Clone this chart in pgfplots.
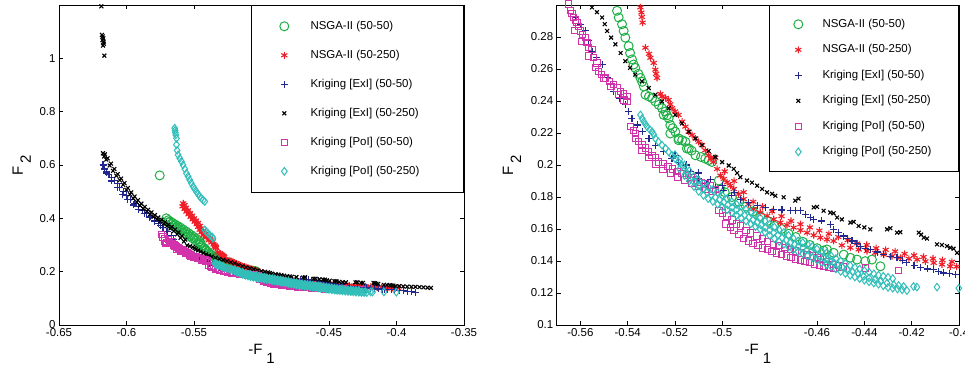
\documentclass[border=0pt]{standalone}
\usepackage{pgfplots}
\pgfplotsset{compat=1.18}
\usepackage{pgfplotstable}
\usepackage{fontspec}
\setmainfont{Liberation Sans}
\definecolor{cgreen}{RGB}{30,175,70}
\definecolor{cred}{RGB}{240,30,40}
\definecolor{cblue}{RGB}{35,40,145}
\definecolor{cmag}{RGB}{210,50,170}
\definecolor{ccyan}{RGB}{50,190,185}

\pgfplotstableread{
x y
-0.5754 0.561
-0.5705 0.400
-0.5690 0.393
-0.5675 0.388
-0.5660 0.383
-0.5640 0.377
-0.5620 0.371
-0.5600 0.365
-0.5580 0.358
-0.5560 0.351
-0.5540 0.344
-0.5520 0.337
-0.5500 0.330
-0.5480 0.322
-0.5460 0.314
-0.5450 0.306
-0.5690 0.385
-0.5670 0.378
-0.5650 0.372
-0.5630 0.366
-0.5610 0.360
-0.5590 0.353
-0.5570 0.346
-0.5550 0.339
-0.5530 0.332
-0.5510 0.325
-0.5490 0.317
-0.5470 0.309
-0.5455 0.302
-0.5445 0.2964
-0.5438 0.2922
-0.5424 0.2880
-0.5417 0.2838
-0.5410 0.2796
-0.5396 0.2743
-0.5390 0.2700
-0.5382 0.2660
-0.5375 0.2628
-0.5368 0.2607
-0.5355 0.2570
-0.5346 0.2544
-0.5339 0.2520
-0.5332 0.2491
-0.5325 0.2439
-0.5310 0.2428
-0.5297 0.2418
-0.5283 0.2397
-0.5269 0.2376
-0.5255 0.2355
-0.5248 0.2313
-0.5241 0.2334
-0.5234 0.2310
-0.5227 0.2292
-0.5220 0.2250
-0.5220 0.2197
-0.5210 0.2230
-0.5199 0.2208
-0.5185 0.2166
-0.5185 0.2155
-0.5170 0.2155
-0.5156 0.2145
-0.5150 0.2103
-0.5142 0.2103
-0.5130 0.2090
-0.5114 0.2061
-0.5090 0.2050
-0.5072 0.2040
-0.5058 0.2030
-0.5044 0.2019
-0.5015 0.1903
-0.5008 0.1850
-0.4990 0.1830
-0.4960 0.1800
-0.4930 0.1770
-0.4900 0.1740
-0.4870 0.1710
-0.4840 0.1680
-0.4810 0.1650
-0.4780 0.1620
-0.4750 0.1600
-0.4720 0.1570
-0.4690 0.1550
-0.4660 0.1520
-0.4630 0.1500
-0.4600 0.1480
-0.4572 0.1465
-0.4558 0.1472
-0.4530 0.1451
-0.4487 0.1440
-0.4459 0.1420
-0.4431 0.1409
-0.4396 0.1399
-0.4368 0.1409
-0.4332 0.1367
}\greendata

\pgfplotstableread{
x y
-0.5580 0.456
-0.5585 0.445
-0.5570 0.435
-0.5556 0.425
-0.5540 0.415
-0.5525 0.405
-0.5510 0.396
-0.5495 0.387
-0.5480 0.378
-0.5470 0.368
-0.5458 0.357
-0.5445 0.347
-0.5430 0.337
-0.5410 0.328
-0.5390 0.318
-0.5370 0.309
-0.5355 0.302
-0.5570 0.450
-0.5560 0.440
-0.5545 0.430
-0.5530 0.420
-0.5515 0.410
-0.5500 0.400
-0.5485 0.392
-0.5470 0.383
-0.5455 0.372
-0.5445 0.362
-0.5432 0.352
-0.5418 0.342
-0.5400 0.333
-0.5380 0.323
-0.5360 0.314
-0.5346 0.2985
-0.5342 0.2953
-0.5340 0.2925
-0.5337 0.2890
-0.5325 0.2733
-0.5310 0.2695
-0.5304 0.2670
-0.5290 0.2638
-0.5283 0.2596
-0.5280 0.2570
-0.5276 0.2544
-0.5262 0.2445
-0.5255 0.2428
-0.5240 0.2420
-0.5227 0.2407
-0.5220 0.2380
-0.5213 0.2355
-0.5200 0.2335
-0.5185 0.2313
-0.5170 0.2271
-0.5156 0.2240
-0.5142 0.2208
-0.5128 0.2187
-0.5114 0.2166
-0.5100 0.2145
-0.5086 0.2124
-0.5072 0.2092
-0.5058 0.2061
-0.5048 0.2040
-0.5037 0.2019
-0.5022 0.1975
-0.5008 0.1934
-0.4994 0.1913
-0.4980 0.1892
-0.4966 0.1871
-0.4952 0.1850
-0.4931 0.1818
-0.4910 0.1787
-0.4890 0.1755
-0.4868 0.1724
-0.4840 0.1703
-0.4811 0.1682
-0.4783 0.1661
-0.4755 0.1640
-0.4727 0.1625
-0.4699 0.1609
-0.4670 0.1593
-0.4642 0.1577
-0.4614 0.1561
-0.4586 0.1546
-0.4558 0.1535
-0.4530 0.1525
-0.4495 0.1498
-0.4459 0.1483
-0.4424 0.1472
-0.4389 0.1462
-0.4354 0.1451
-0.4318 0.1440
-0.4283 0.1430
-0.4248 0.1420
-0.4212 0.1414
-0.4177 0.1409
-0.4142 0.1398
-0.4107 0.1388
-0.4072 0.1378
-0.4037 0.1367
-0.4010 0.1365
-0.5030 0.2045
-0.4990 0.1960
-0.4950 0.1900
-0.4910 0.1830
-0.4870 0.1770
-0.4830 0.1740
-0.4790 0.1710
-0.4750 0.1680
-0.4710 0.1650
-0.4670 0.1630
-0.4630 0.1610
-0.4590 0.1590
-0.4550 0.1570
-0.4510 0.1550
-0.4470 0.1530
-0.4430 0.1510
-0.4390 0.1500
-0.4350 0.1480
-0.4310 0.1470
-0.4270 0.1460
-0.4230 0.1445
-0.4190 0.1435
-0.4150 0.1425
-0.4110 0.1415
-0.4070 0.1405
-0.4030 0.1395
-0.3990 0.1390
}\reddata

\pgfplotstableread{
x y
-0.6174 0.600
-0.6160 0.585
-0.6145 0.575
-0.6130 0.565
-0.6110 0.553
-0.6090 0.541
-0.6070 0.530
-0.6050 0.515
-0.6025 0.500
-0.6000 0.487
-0.5970 0.472
-0.5940 0.457
-0.5910 0.443
-0.5880 0.430
-0.5850 0.418
-0.5820 0.405
-0.5790 0.392
-0.5760 0.379
-0.5730 0.366
-0.5700 0.350
-0.5670 0.335
-0.5650 0.322
-0.5635 0.305
-0.6150 0.570
-0.6110 0.540
-0.6070 0.515
-0.6030 0.490
-0.5990 0.470
-0.5950 0.450
-0.5910 0.432
-0.5870 0.417
-0.5830 0.402
-0.5790 0.388
-0.5750 0.373
-0.5621 0.2922
-0.5600 0.2880
-0.5579 0.2838
-0.5565 0.2780
-0.5551 0.2712
-0.5530 0.2670
-0.5508 0.2628
-0.5485 0.2545
-0.5459 0.2460
-0.5435 0.2418
-0.5410 0.2376
-0.5396 0.2334
-0.5382 0.2292
-0.5360 0.2250
-0.5339 0.2208
-0.5310 0.2166
-0.5283 0.2124
-0.5248 0.2082
-0.5213 0.2039
-0.5185 0.2018
-0.5156 0.1997
-0.5135 0.1960
-0.5100 0.1915
-0.5065 0.1882
-0.5030 0.1860
-0.4994 0.1840
-0.4960 0.1810
-0.4924 0.1787
-0.4890 0.1766
-0.4853 0.1745
-0.4818 0.1735
-0.4783 0.1724
-0.4748 0.1719
-0.4713 0.1714
-0.4692 0.1714
-0.4670 0.1714
-0.4649 0.1690
-0.4628 0.1672
-0.4614 0.1661
-0.4580 0.1650
-0.4544 0.1630
-0.4530 0.1598
-0.4508 0.1580
-0.4487 0.1556
-0.4470 0.1540
-0.4452 0.1525
-0.4435 0.1510
-0.4417 0.1493
-0.4396 0.1480
-0.4375 0.1472
-0.4346 0.1456
-0.4318 0.1440
-0.4290 0.1430
-0.4262 0.1420
-0.4240 0.1404
-0.4220 0.1388
-0.4190 0.1370
-0.4163 0.1357
-0.4135 0.1350
-0.4107 0.1346
-0.4086 0.1335
-0.4065 0.1325
-0.4040 0.1320
-0.4015 0.1315
-0.3980 0.1300
-0.3950 0.1280
-0.3920 0.1270
-0.3890 0.1250
-0.3860 0.1230
-0.5200 0.2060
-0.5150 0.2000
-0.5100 0.1950
-0.5050 0.1910
-0.5000 0.1870
-0.4950 0.1830
}\bluedata

\pgfplotstableread{
x y
-0.6186 1.195
-0.6182 1.088
-0.6176 1.082
-0.6172 1.075
-0.6178 1.068
-0.6170 1.062
-0.6168 1.055
-0.6174 1.048
-0.6164 1.010
-0.6174 0.644
-0.6165 0.632
-0.6150 0.620
-0.6125 0.598
-0.6100 0.578
-0.6075 0.560
-0.6050 0.543
-0.6025 0.526
-0.6000 0.507
-0.5975 0.490
-0.5950 0.475
-0.5925 0.461
-0.5900 0.448
-0.5875 0.436
-0.5850 0.426
-0.5825 0.416
-0.5800 0.406
-0.5775 0.397
-0.5750 0.389
-0.5725 0.380
-0.5700 0.371
-0.5675 0.362
-0.5650 0.352
-0.5625 0.340
-0.5600 0.327
-0.5575 0.313
-0.6160 0.640
-0.6140 0.625
-0.6115 0.605
-0.6090 0.585
-0.6065 0.566
-0.6040 0.549
-0.6015 0.532
-0.5990 0.514
-0.5965 0.497
-0.5940 0.482
-0.5915 0.468
-0.5890 0.455
-0.5865 0.443
-0.5840 0.432
-0.5815 0.422
-0.5790 0.412
-0.5765 0.403
-0.5740 0.395
-0.5715 0.386
-0.5690 0.377
-0.5665 0.368
-0.5640 0.358
-0.5615 0.347
-0.5590 0.334
-0.5565 0.320
-0.5551 0.2985
-0.5530 0.2955
-0.5508 0.2922
-0.5497 0.2880
-0.5487 0.2838
-0.5470 0.2796
-0.5452 0.2754
-0.5430 0.2700
-0.5410 0.2649
-0.5390 0.2607
-0.5368 0.2565
-0.5340 0.2523
-0.5311 0.2481
-0.5283 0.2439
-0.5255 0.2397
-0.5227 0.2355
-0.5199 0.2313
-0.5171 0.2260
-0.5142 0.2208
-0.5114 0.2166
-0.5086 0.2124
-0.5058 0.2087
-0.5030 0.2050
-0.5001 0.2018
-0.4973 0.1997
-0.4952 0.1976
-0.4938 0.1950
-0.4924 0.1924
-0.4896 0.1903
-0.4875 0.1890
-0.4853 0.1871
-0.4832 0.1850
-0.4811 0.1829
-0.4790 0.1820
-0.4776 0.1808
-0.4741 0.1798
-0.4692 0.1777
-0.4678 0.1790
-0.4614 0.1735
-0.4600 0.1738
-0.4572 0.1714
-0.4544 0.1703
-0.4530 0.1698
-0.4515 0.1672
-0.4495 0.1660
-0.4459 0.1640
-0.4445 0.1645
-0.4424 0.1619
-0.4400 0.1610
-0.4375 0.1598
-0.4304 0.1598
-0.4290 0.1605
-0.4262 0.1577
-0.4248 0.1580
-0.4170 0.1577
-0.4160 0.1565
-0.4149 0.1546
-0.4135 0.1540
-0.4093 0.1504
-0.4072 0.1500
-0.4051 0.1493
-0.4037 0.1483
-0.4023 0.1477
-0.4008 0.1451
-0.3980 0.1460
-0.3950 0.1450
-0.3920 0.1440
-0.3890 0.1435
-0.3860 0.1430
-0.3830 0.1420
-0.3800 0.1410
-0.3770 0.1400
-0.3745 0.1390
}\blackdata

\pgfplotstableread{
x y
-0.5740 0.340
-0.5730 0.330
-0.5720 0.325
-0.5715 0.315
-0.5710 0.305
-0.5705 0.310
-0.5690 0.320
-0.5680 0.310
-0.5670 0.305
-0.5660 0.312
-0.5649 0.3006
-0.5642 0.2964
-0.5635 0.2945
-0.5628 0.2922
-0.5621 0.2905
-0.5614 0.2890
-0.5607 0.2865
-0.5600 0.2838
-0.5590 0.2817
-0.5579 0.2796
-0.5572 0.2765
-0.5565 0.2733
-0.5551 0.2722
-0.5544 0.2670
-0.5530 0.2638
-0.5523 0.2586
-0.5510 0.2565
-0.5494 0.2544
-0.5477 0.2523
-0.5459 0.2502
-0.5445 0.2480
-0.5431 0.2460
-0.5417 0.2444
-0.5403 0.2428
-0.5403 0.2397
-0.5625 0.2840
-0.5595 0.2770
-0.5565 0.2680
-0.5535 0.2610
-0.5500 0.2540
-0.5470 0.2490
-0.5440 0.2440
-0.5415 0.2405
-0.5389 0.2239
-0.5375 0.2215
-0.5368 0.2197
-0.5368 0.2166
-0.5354 0.2145
-0.5340 0.2125
-0.5325 0.2105
-0.5311 0.2081
-0.5297 0.2060
-0.5283 0.2045
-0.5269 0.2019
-0.5250 0.2005
-0.5230 0.1990
-0.5210 0.1976
-0.5190 0.1960
-0.5170 0.1945
-0.5150 0.1934
-0.5130 0.1920
-0.5110 0.1905
-0.5090 0.1892
-0.5070 0.1880
-0.5050 0.1870
-0.5030 0.1848
-0.5340 0.2090
-0.5310 0.2045
-0.5280 0.2005
-0.5250 0.1975
-0.5220 0.1950
-0.5190 0.1925
-0.5160 0.1905
-0.5130 0.1885
-0.5100 0.1865
-0.5070 0.1850
-0.5040 0.1835
-0.5015 0.1714
-0.5000 0.1700
-0.4980 0.1682
-0.4960 0.1655
-0.4940 0.1630
-0.4924 0.1619
-0.4900 0.1590
-0.4880 0.1575
-0.4853 0.1556
-0.4830 0.1540
-0.4810 0.1520
-0.4783 0.1504
-0.4760 0.1495
-0.4735 0.1483
-0.4713 0.1472
-0.4690 0.1462
-0.4665 0.1450
-0.4642 0.1440
-0.4620 0.1430
-0.4600 0.1420
-0.4586 0.1409
-0.4560 0.1395
-0.4530 0.1378
-0.4510 0.1370
-0.4490 0.1362
-0.4985 0.1630
-0.4950 0.1590
-0.4910 0.1540
-0.4870 0.1510
-0.4830 0.1480
-0.4790 0.1460
-0.4750 0.1440
-0.4710 0.1420
-0.4670 0.1405
-0.4630 0.1390
-0.4590 0.1375
-0.4550 0.1360
-0.4965 0.1610
-0.4930 0.1565
-0.4890 0.1525
-0.4850 0.1495
-0.4810 0.1470
-0.4770 0.1450
-0.4730 0.1430
-0.4690 0.1412
-0.4650 0.1398
-0.4610 0.1382
-0.4570 0.1368
-0.4530 0.1355
-0.4396 0.1357
-0.4255 0.1340
}\magdata

\pgfplotstableread{
x y
-0.5643 0.738
-0.5640 0.730
-0.5638 0.722
-0.5635 0.713
-0.5630 0.700
-0.5630 0.676
-0.5625 0.655
-0.5618 0.638
-0.5605 0.625
-0.5593 0.613
-0.5581 0.600
-0.5568 0.585
-0.5556 0.569
-0.5544 0.557
-0.5532 0.544
-0.5520 0.532
-0.5507 0.519
-0.5495 0.510
-0.5482 0.500
-0.5470 0.491
-0.5458 0.482
-0.5445 0.475
-0.5432 0.468
-0.5420 0.463
-0.5420 0.357
-0.5410 0.350
-0.5396 0.344
-0.5380 0.335
-0.5365 0.330
-0.5359 0.325
-0.5346 0.2313
-0.5339 0.2290
-0.5332 0.2271
-0.5325 0.2255
-0.5318 0.2239
-0.5307 0.2222
-0.5297 0.2208
-0.5290 0.2190
-0.5283 0.2166
-0.5270 0.2145
-0.5255 0.2124
-0.5240 0.2103
-0.5227 0.2082
-0.5213 0.2060
-0.5199 0.2039
-0.5185 0.2018
-0.5170 0.1997
-0.5152 0.1955
-0.5135 0.1913
-0.5120 0.1893
-0.5100 0.1870
-0.5082 0.1850
-0.5065 0.1829
-0.5047 0.1813
-0.5030 0.1797
-0.5012 0.1782
-0.4994 0.1766
-0.4977 0.1750
-0.4959 0.1735
-0.4941 0.1719
-0.4924 0.1703
-0.4906 0.1687
-0.4888 0.1672
-0.4871 0.1656
-0.4853 0.1640
-0.4836 0.1624
-0.4818 0.1608
-0.4800 0.1593
-0.4783 0.1577
-0.4765 0.1561
-0.4748 0.1545
-0.4730 0.1530
-0.4713 0.1514
-0.4695 0.1503
-0.4678 0.1493
-0.4660 0.1482
-0.4642 0.1472
-0.4625 0.1459
-0.4607 0.1446
-0.4590 0.1433
-0.4572 0.1420
-0.4557 0.1410
-0.4543 0.1400
-0.4529 0.1390
-0.4515 0.1378
-0.4494 0.1362
-0.4473 0.1346
-0.4450 0.1332
-0.4426 0.1318
-0.4403 0.1304
-0.4380 0.1294
-0.4356 0.1284
-0.4332 0.1273
-0.4304 0.1262
-0.4276 0.1252
-0.4255 0.1247
-0.4234 0.1241
-0.4192 0.1241
-0.4178 0.1237
-0.4093 0.1237
-0.4001 0.1230
-0.5200 0.2065
-0.5180 0.2035
-0.5160 0.2000
-0.5140 0.1965
-0.5120 0.1930
-0.5100 0.1905
-0.5080 0.1885
-0.5060 0.1865
-0.5040 0.1845
-0.5020 0.1828
-0.5000 0.1810
-0.4980 0.1790
-0.4960 0.1770
-0.4940 0.1755
-0.4920 0.1740
-0.4900 0.1722
-0.4880 0.1705
-0.4860 0.1688
-0.4840 0.1670
-0.4820 0.1650
-0.4800 0.1630
-0.4780 0.1612
-0.4760 0.1595
-0.4740 0.1578
-0.4720 0.1560
-0.4700 0.1542
-0.4680 0.1525
-0.4660 0.1515
-0.4640 0.1505
-0.4620 0.1490
-0.4600 0.1475
-0.4580 0.1462
-0.4560 0.1450
-0.4540 0.1432
-0.4520 0.1415
-0.4500 0.1400
-0.4480 0.1385
-0.4460 0.1372
-0.4440 0.1360
-0.4420 0.1350
-0.4400 0.1340
-0.4380 0.1330
-0.4360 0.1320
-0.4340 0.1312
-0.4320 0.1305
-0.4300 0.1298
-0.4280 0.1290
-0.5180 0.1975
-0.5160 0.1935
-0.5140 0.1900
-0.5120 0.1865
-0.5100 0.1835
-0.5080 0.1810
-0.5060 0.1790
-0.5040 0.1772
-0.5020 0.1755
-0.5000 0.1738
-0.4980 0.1720
-0.4960 0.1702
-0.4940 0.1685
-0.4920 0.1668
-0.4900 0.1650
-0.4880 0.1632
-0.4860 0.1615
-0.4840 0.1598
-0.4820 0.1580
-0.4800 0.1560
-0.4780 0.1540
-0.4760 0.1522
-0.4740 0.1505
-0.4720 0.1488
-0.4700 0.1470
-0.4680 0.1458
-0.4660 0.1445
-0.4640 0.1432
-0.4620 0.1420
-0.4600 0.1405
-0.4580 0.1390
-0.4560 0.1378
-0.4540 0.1365
-0.4520 0.1350
-0.4500 0.1335
-0.4480 0.1322
-0.4460 0.1310
-0.4440 0.1300
-0.4420 0.1290
-0.4400 0.1280
-0.4380 0.1270
-0.4360 0.1262
-0.4340 0.1255
-0.4320 0.1245
-0.4300 0.1235
-0.4280 0.1230
-0.4260 0.1225
-0.4240 0.1220
-0.4220 0.1215
}\cyandata

\pgfplotsset{
  panel/.style={
    scale only axis, height=320bp,
    axis line style={line width=0.6bp},
    tick align=inside, major tick length=4bp,
    every tick/.style={line width=0.5bp, black},
    tick label style={font=\fontsize{11.5}{13}\selectfont},
    clip=false,
    legend cell align=left,
    legend image code/.code={\draw[mark repeat=2,mark phase=2,##1] plot coordinates {(0bp,0bp) (14bp,0bp) (28bp,0bp)};},
  },
  sgreen/.style={color=cgreen, draw=cgreen, mark options={draw=cgreen, fill=none}, only marks, mark=o, mark size=4.5bp, line width=1bp},
  sred/.style={color=cred, draw=cred, mark options={draw=cred}, only marks, mark=asterisk, mark size=3.5bp, line width=1.1bp},
  sblue/.style={color=cblue, draw=cblue, mark options={draw=cblue}, only marks, mark=+, mark size=3.5bp, line width=1.1bp},
  sblack/.style={color=black, draw=black, mark options={draw=black}, only marks, mark=x, mark size=2.7bp, line width=1.1bp},
  smag/.style={color=cmag, draw=cmag, mark options={draw=cmag, fill=none}, only marks, mark=square, mark size=3.2bp, line width=1bp},
  scyan/.style={color=ccyan, draw=ccyan, mark options={draw=ccyan, fill=none}, only marks, mark=diamond, mark size=3.8bp, line width=1bp},
}

\begin{document}
\begin{tikzpicture}
\useasboundingbox (-59bp,-43bp) rectangle (906bp,325bp);
\begin{axis}[panel, at={(0bp,0bp)}, anchor=south west, width=405bp,
  xmin=-0.65, xmax=-0.35, ymin=0, ymax=1.2,
  xtick={-0.65,-0.6,-0.55,-0.45,-0.4,-0.35},
  xticklabels={-0.65,-0.6,-0.55,-0.45,-0.4,-0.35},
  ytick={0,0.2,0.4,0.6,0.8,1},
  yticklabels={0,0.2,0.4,0.6,0.8,1},
  xlabel={-F\hspace{4bp}\raisebox{-9bp}{1}},
  ylabel={F\hspace{3bp}\raisebox{-8bp}{2}},
  every axis x label/.style={at={(axis description cs:0.5,0)}, anchor=base, yshift=-29bp, font=\fontsize{15}{16}\selectfont},
  every axis y label/.style={at={([xshift=-36bp]axis description cs:0,0.5)}, rotate=90, anchor=base, font=\fontsize{15}{16}\selectfont},
  legend style={at={(1,1)}, anchor=north east, draw=black, line width=0.6bp, fill=white,
    inner xsep=28.5bp, inner ysep=14bp, row sep=15bp, font=\fontsize{11.5}{13}\selectfont,
    nodes={text height=8bp, text depth=2bp, inner ysep=2bp},
    /tikz/every odd column/.append style={column sep=19.7bp}},
]
\addplot[sgreen] table {\greendata};
\addlegendentry{\makebox[122.7bp][l]{NSGA-II (50-50)}}
\addplot[sred] table {\reddata};
\addlegendentry{\makebox[122.7bp][l]{NSGA-II (50-250)}}
\addplot[sblue] table {\bluedata};
\addlegendentry{\makebox[122.7bp][l]{Kriging [ExI] (50-50)}}
\addplot[sblack] table {\blackdata};
\addlegendentry{\makebox[122.7bp][l]{Kriging [ExI] (50-250)}}
\addplot[smag] table {\magdata};
\addlegendentry{\makebox[122.7bp][l]{Kriging [PoI] (50-50)}}
\addplot[scyan] table {\cyandata};
\addlegendentry{\makebox[122.7bp][l]{Kriging [PoI] (50-250)}}
\end{axis}

\begin{axis}[panel, at={(497.7bp,0bp)}, anchor=south west, width=402.3bp,
  xmin=-0.57, xmax=-0.4, ymin=0.1, ymax=0.3,
  restrict x to domain=-0.5705:-0.3995, restrict y to domain=0.0995:0.3012,
  xtick={-0.56,-0.54,-0.52,-0.5,-0.46,-0.44,-0.42,-0.4},
  xticklabels={-0.56,-0.54,-0.52,-0.5,-0.46,-0.44,-0.42,-0.4},
  ytick={0.1,0.12,0.14,0.16,0.18,0.2,0.22,0.24,0.26,0.28},
  yticklabels={0.1,0.12,0.14,0.16,0.18,0.2,0.22,0.24,0.26,0.28},
  xlabel={-F\hspace{4bp}\raisebox{-9bp}{1}},
  ylabel={F\hspace{3bp}\raisebox{-8bp}{2}},
  every axis x label/.style={at={(axis description cs:0.5,0)}, anchor=base, yshift=-29bp, font=\fontsize{15}{16}\selectfont},
  every axis y label/.style={at={([xshift=-43.7bp]axis description cs:0,0.5)}, rotate=90, anchor=base, font=\fontsize{15}{16}\selectfont},
  legend style={at={(1,1)}, anchor=north east, draw=black, line width=0.6bp, fill=white,
    inner xsep=24.5bp, inner ysep=12bp, row sep=11.5bp, font=\fontsize{11.5}{13}\selectfont,
    nodes={text height=8bp, text depth=2bp, inner ysep=2bp},
    /tikz/every odd column/.append style={column sep=17.7bp}},
]
\addplot[sgreen] table {\greendata};
\addlegendentry{\makebox[109.7bp][l]{NSGA-II (50-50)}}
\addplot[sred] table {\reddata};
\addlegendentry{\makebox[109.7bp][l]{NSGA-II (50-250)}}
\addplot[sblue] table {\bluedata};
\addlegendentry{\makebox[109.7bp][l]{Kriging [ExI] (50-50)}}
\addplot[sblack] table {\blackdata};
\addlegendentry{\makebox[109.7bp][l]{Kriging [ExI] (50-250)}}
\addplot[smag] table {\magdata};
\addlegendentry{\makebox[109.7bp][l]{Kriging [PoI] (50-50)}}
\addplot[scyan] table {\cyandata};
\addlegendentry{\makebox[109.7bp][l]{Kriging [PoI] (50-250)}}
\end{axis}
\end{tikzpicture}
\end{document}
